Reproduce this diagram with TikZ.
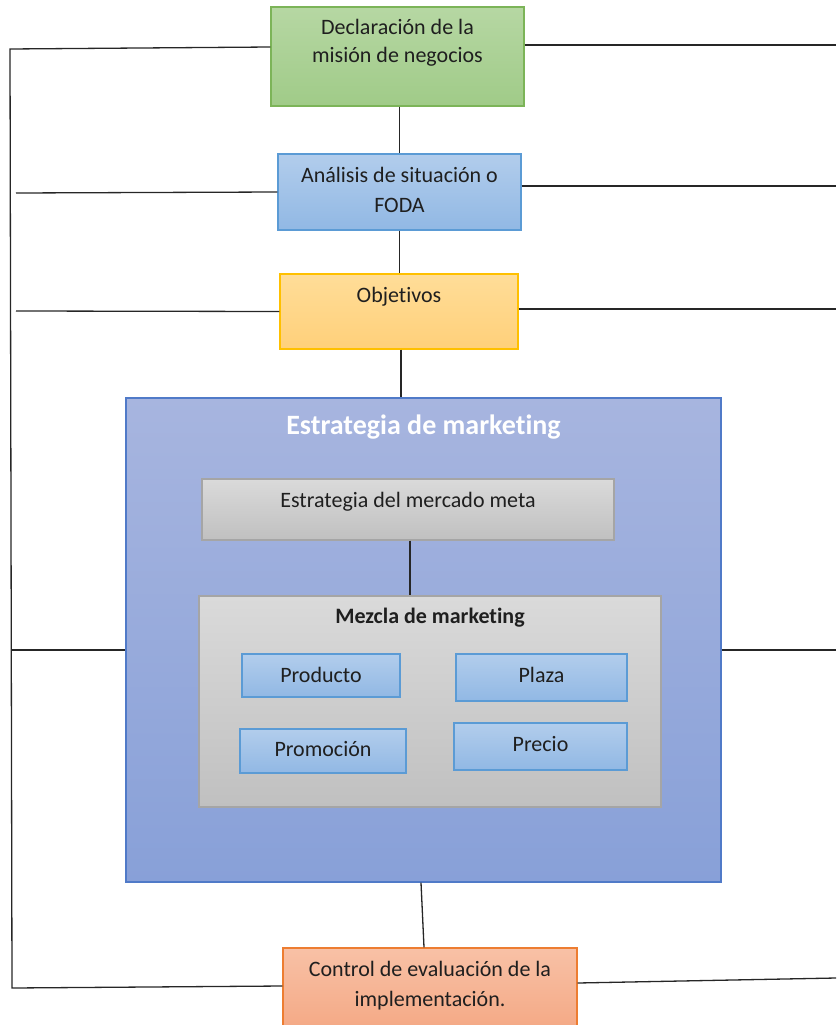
\documentclass[tikz,border=0pt]{standalone}
\usepackage{fontspec}
\setmainfont{Carlito}[Ligatures=NoCommon]
\definecolor{gTop}{RGB}{182,215,163}
\definecolor{gBot}{RGB}{160,203,136}
\definecolor{gLine}{RGB}{124,180,88}
\definecolor{bTop}{RGB}{178,205,236}
\definecolor{bBot}{RGB}{145,184,228}
\definecolor{bLine}{RGB}{91,155,213}
\definecolor{oTop}{RGB}{255,221,152}
\definecolor{oBot}{RGB}{255,208,122}
\definecolor{oLine}{RGB}{255,192,0}
\definecolor{mTop}{RGB}{167,181,223}
\definecolor{mBot}{RGB}{136,160,216}
\definecolor{mLine}{RGB}{80,122,200}
\definecolor{yTop}{RGB}{218,218,218}
\definecolor{yBot}{RGB}{192,192,192}
\definecolor{yLine}{RGB}{165,165,165}
\definecolor{cTop}{RGB}{248,193,166}
\definecolor{cBot}{RGB}{244,168,132}
\definecolor{cLine}{RGB}{237,125,49}
\tikzset{
  boxbase/.style={rectangle, draw, line width=1.3pt, inner sep=0pt, shading angle=0},
  greenbox/.style={boxbase, top color=gTop, bottom color=gBot, draw=gLine},
  bluebox/.style={boxbase, top color=bTop, bottom color=bBot, draw=bLine},
  orangebox/.style={boxbase, top color=oTop, bottom color=oBot, draw=oLine},
  bigbox/.style={boxbase, top color=mTop, bottom color=mBot, draw=mLine},
  graybox/.style={boxbase, top color=yTop, bottom color=yBot, draw=yLine},
  ctrlbox/.style={boxbase, top color=cTop, bottom color=cBot, draw=cLine},
  txt/.style={font=\fontsize{22}{28}\selectfont, anchor=base, inner sep=0pt, align=center, text=black!88},
  titletxt/.style={font=\fontsize{28}{32}\selectfont\bfseries, anchor=base, inner sep=0pt, text=white},
  boldtxt/.style={font=\fontsize{22}{28}\selectfont\bfseries, anchor=base, inner sep=0pt, text=black!88},
  conn/.style={draw=black!85, line width=1.3pt}
}
\newcommand{\boxat}[6]{%
  \node[#6, minimum width={(#4-#2)*1pt}, minimum height={(#5-#3)*1pt}] (#1) at ({(#2+#4)/2},{(#3+#5)/2}) {};}
\begin{document}
\begin{tikzpicture}[x=1pt,y=-1pt]
\useasboundingbox (0,0) rectangle (836,1025);
% boxes
\boxat{green}{271}{7}{524}{106}{greenbox}
\boxat{ana}{278}{154}{521}{230}{bluebox}
\boxat{obj}{280}{274}{518}{349}{orangebox}
\boxat{big}{126}{398}{721}{882}{bigbox}
\boxat{merc}{202}{479}{614}{540}{graybox}
\boxat{mez}{199}{596}{661}{807}{graybox}
\boxat{prod}{242}{654}{400}{697}{bluebox}
\boxat{plaza}{456}{654}{627}{701}{bluebox}
\boxat{promo}{240}{729}{406}{773}{bluebox}
\boxat{precio}{454}{723}{627}{770}{bluebox}
\boxat{ctrl}{283}{948}{577}{1032}{ctrlbox}
% texts (base anchor = last line)
\node[txt] (tgreen) at (397.5,63) {Declaración de la\\misión de negocios};
\node[txt] (tana) at (399.5,212) {Análisis de situación o\\[2pt]FODA};
\node[txt] (tobj) at (399,302) {Objetivos};
\node[titletxt] (tbig) at (423.5,434) {Estrategia de marketing};
\node[txt] (tmerc) at (408,507) {Estrategia del mercado meta};
\node[boldtxt] (tmez) at (430,623) {Mezcla de marketing};
\node[txt] (tprod) at (321,682) {Producto};
\node[txt] (tplaza) at (541.5,682) {Plaza};
\node[txt] (tpromo) at (323,756) {Promoción};
\node[txt] (tprecio) at (540.5,751) {Precio};
\node[txt] (tctrl) at (430,1006) {Control de evaluación de la\\[2pt]implementación.};
% spine and free ends
\coordinate (sTop) at (10,49);
\coordinate (sBot) at (12,988);
\coordinate (lA) at (16,193);
\coordinate (lO) at (16,311);
\coordinate (lE) at (12,650);
\coordinate (rG) at (836,45);
\coordinate (rA) at (836,186);
\coordinate (rO) at (836,309);
\coordinate (rE) at (836,650);
\coordinate (rC) at (836,978);
% vertical connectors
\draw[conn] (ana.north |- green.south) -- (ana.north);
\draw[conn] (ana.south) -- (ana.south |- obj.north);
\draw[conn] ([xshift=2pt]obj.south) -- ([xshift=2pt]obj.south |- big.north);
\draw[conn] ([xshift=2pt]merc.south) -- ([xshift=2pt]merc.south |- mez.north);
\draw[conn] ([xshift=-2.5pt]big.south) -- ([xshift=-6pt]ctrl.north);
% left feedback
\draw[conn] ([yshift=9.5pt]green.west) -- (sTop) -- (sBot) -- ([yshift=4pt]ctrl.west);
\draw[conn] (lA) -- (ana.west);
\draw[conn] (lO) -- (obj.west);
\draw[conn] (lE) -- ([yshift=-10pt]big.west);
% right lines
\draw[conn] ([yshift=11.5pt]green.east) -- (rG);
\draw[conn] ([yshift=6pt]ana.east) -- (rA);
\draw[conn] ([yshift=2.5pt]obj.east) -- (rO);
\draw[conn] ([yshift=-10pt]big.east) -- (rE);
\draw[conn] ([yshift=7pt]ctrl.east) -- (rC);
\end{tikzpicture}
\end{document}
